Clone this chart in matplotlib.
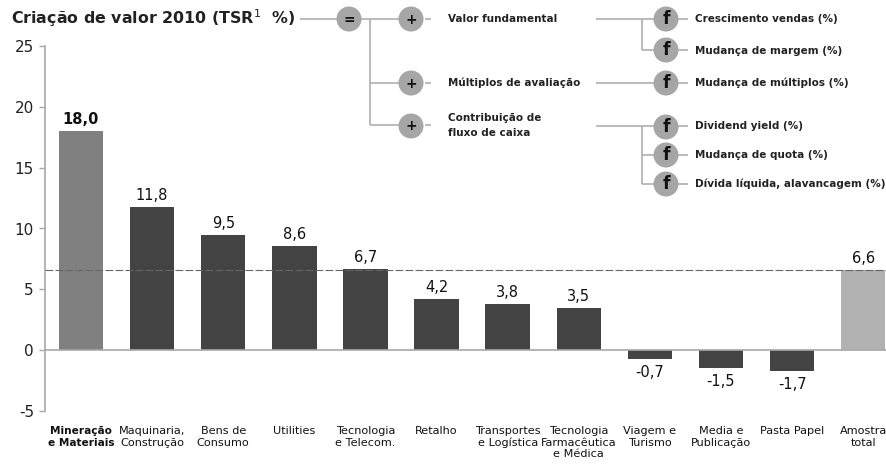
import matplotlib
matplotlib.use('Agg')
from matplotlib import pyplot as plt
from matplotlib.patches import Circle

W, H = 887, 469

categories = ['Mineração\ne Materiais', 'Maquinaria,\nConstrução', 'Bens de\nConsumo', 'Utilities',
              'Tecnologia\ne Telecom.', 'Retalho', 'Transportes\ne Logística',
              'Tecnologia\nFarmacêutica\ne Médica', 'Viagem e\nTurismo', 'Media e\nPublicação',
              'Pasta Papel', 'Amostra\ntotal']
values = [18.0, 11.8, 9.5, 8.6, 6.7, 4.2, 3.8, 3.5, -0.7, -1.5, -1.7, 6.6]
bar_colors = ['#808080'] + ['#434343'] * 10 + ['#b2b2b2']
yticks = [-5, 0, 5, 10, 15, 20, 25]
average = 6.6

LINE = '#a8a8a8'
CIRCLE = '#a6a6a6'
TEXT = '#222222'

plt.rcParams['font.family'] = ['DejaVu Sans']

fig = plt.figure(figsize=(W / 100, H / 100), dpi=100)

# overlay in pixel coordinates for the driver tree
over = fig.add_axes([0, 0, 1, 1])
over.set_xlim(0, W)
over.set_ylim(H, 0)
over.axis('off')

ax = fig.add_axes([45 / W, (H - 411) / H, (W - 45) / W, (411 - 46) / H])
ax.patch.set_alpha(0)
xs = list(range(len(values)))
ax.bar(xs, values, width=0.625, color=bar_colors, zorder=2)
ax.set_xlim(-0.506, 11.335)
ax.set_ylim(-5, 25)
ax.set_yticks(yticks)
ax.set_yticklabels([str(t) for t in yticks], fontsize=11, color=TEXT)
ax.tick_params(axis='y', length=4, color=LINE, width=1, pad=4)
ax.set_xticks([])
for side in ['top', 'right', 'bottom']:
    ax.spines[side].set_visible(False)
ax.spines['left'].set_color(LINE)
ax.spines['left'].set_linewidth(1.2)
ax.axhline(0, color=LINE, lw=1.2, zorder=3)
ax.axhline(average, color='#666666', lw=0.8, dashes=(7, 2), zorder=3)

for i, v in enumerate(values):
    label = f'{v:.1f}'.replace('.', ',')
    offset = 4 if v > 0 else -6
    ax.annotate(label, (i, v), xytext=(0, offset), textcoords='offset pixels',
                ha='center', va='bottom' if v > 0 else 'top', fontsize=10.5, color='#111111',
                fontweight='bold' if i == 0 else 'normal')

for i, name in enumerate(categories):
    ax.annotate(name, (i, -5), xytext=(0, -15), textcoords='offset pixels',
                ha='center', va='top', fontsize=7.6 if i == 0 else 8.1, color='#111111',
                linespacing=1.2 if i else 1.3,
                fontweight='bold' if i == 0 else 'normal', annotation_clip=False)

over.text(11, 18.5, 'Criação de valor 2010 (TSR$^{1}$  %)', fontsize=11.4, fontweight='bold',
          color=TEXT, va='center', ha='left')

# connector lines of the tree
segments = [
    ((300, 19), (337, 19)), ((361, 19), (399, 19)), ((370, 19), (370, 125)),
    ((370, 83), (399, 83)), ((370, 125), (399, 125)), ((425, 19), (431, 19)),
    ((425, 83), (431, 83)), ((425, 125), (431, 125)),
    ((596, 19), (654, 19)), ((642, 19), (642, 50)), ((642, 50), (654, 50)),
    ((596, 83), (654, 83)),
    ((596, 126), (654, 126)), ((642, 126), (642, 184)), ((642, 155), (654, 155)), ((642, 184), (654, 184)),
    ((678, 19), (688, 19)), ((678, 50), (688, 50)), ((678, 83), (688, 83)),
    ((678, 126), (688, 126)), ((678, 155), (688, 155)), ((678, 184), (688, 184)),
]
for (x0, y0), (x1, y1) in segments:
    over.plot([x0, x1], [y0, y1], color=LINE, lw=1.1, solid_capstyle='butt', zorder=1)

symbols = [
    (349, 19, '='), (411, 19, '+'), (411, 83, '+'), (411, 126, '+'),
    (666, 19, 'f'), (666, 50, 'f'), (666, 83, 'f'), (666, 127, 'f'), (666, 155, 'f'), (666, 184, 'f'),
]
for cx, cy, sym in symbols:
    over.add_patch(Circle((cx, cy), 12.5, color=CIRCLE, lw=0, zorder=2))
    big = sym == 'f'
    over.text(cx, cy + (0 if big else 0.5), sym, ha='center', va='center', zorder=3, color='#111111',
              fontweight='bold', fontsize=12.5 if big else 10)

labels_mid = [(448, 18.5, 'Valor fundamental'), (448, 83, 'Múltiplos de avaliação'),
              (448, 118, 'Contribuição de'), (448, 132.5, 'fluxo de caixa')]
labels_right = [(695, 19, 'Crescimento vendas (%)'), (695, 51, 'Mudança de margem (%)'),
                (695, 83, 'Mudança de múltiplos (%)'), (695, 126, 'Dividend yield (%)'),
                (695, 155, 'Mudança de quota (%)'), (695, 184, 'Dívida líquida, alavancagem (%)')]
for x, y, s in labels_mid + labels_right:
    over.text(x, y, s, fontsize=7.5, fontweight='semibold', color=TEXT, va='center', ha='left')

fig.savefig('out.png', dpi=100)
